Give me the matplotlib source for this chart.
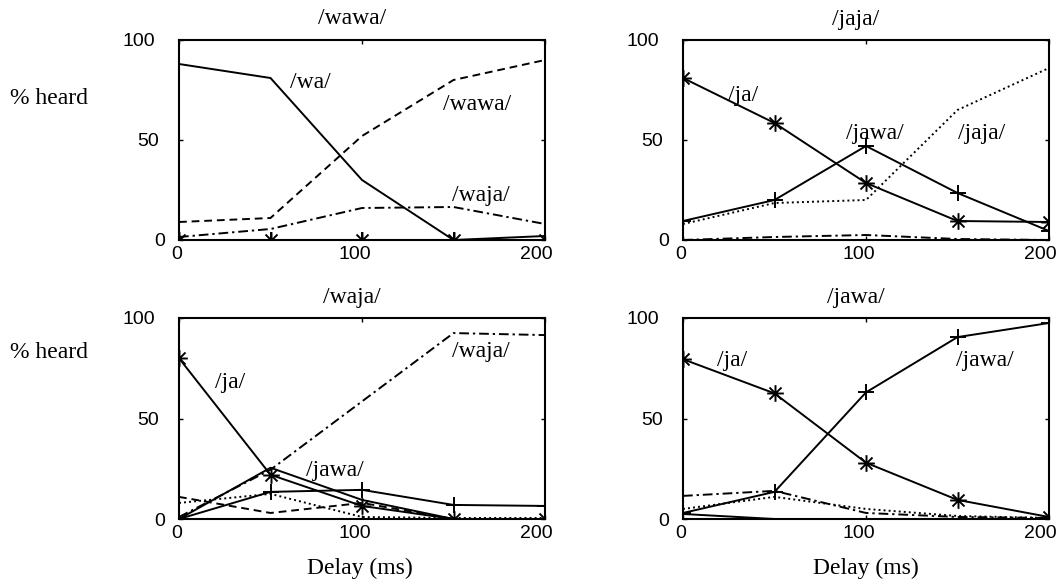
#!/usr/bin/env python3
"""Percent heard vs. delay for the four stimulus conditions (2x2 panels)."""

import matplotlib
matplotlib.use("Agg")
import matplotlib.pyplot as plt
import matplotlib.transforms as mtransforms
from matplotlib.path import Path

W, H, DPI = 1057, 586, 100

delay = [0, 50, 100, 150, 200]
x_ticks = [0, 100, 200]
y_ticks = [0, 50, 100]

# stimulus /wawa/
wawa_wa = [88, 81, 30, 0, 2]
wawa_ja = [0, 0, 0, 0, 0]
wawa_wawa = [9, 11, 52, 80, 90]
wawa_waja = [1.5, 5.5, 16, 16.5, 8]
wawa_jaja = [0, 0, 0, 0, 0]
wawa_jawa = [0, 0, 0, 0, 0]

# stimulus /jaja/
jaja_wa = [0, 0, 0, 0, 0]
jaja_ja = [81, 58.5, 28.5, 9.5, 9]
jaja_wawa = [0, 0, 0, 0, 0]
jaja_waja = [0, 1.5, 2.5, 0.5, 0]
jaja_jaja = [8, 18.5, 20, 65, 86]
jaja_jawa = [9.5, 20, 47, 23.5, 4.5]

# stimulus /waja/
waja_wa = [0, 25.5, 9.5, 0, 0]
waja_ja = [80, 22, 6.5, 0, 0]
waja_wawa = [11, 3, 8, 0, 0]
waja_waja = [1, 24.5, 58.5, 92.5, 91.5]
waja_jaja = [8, 12.5, 1, 0.5, 0.5]
waja_jawa = [0, 13.5, 14.5, 7, 6.5]

# stimulus /jawa/
jawa_wa = [2.5, 0, 0, 0, 0]
jawa_ja = [79.5, 62.5, 28, 9.5, 1]
jawa_wawa = [0, 0, 0, 0, 0]
jawa_waja = [11.5, 14, 3, 1, 0.5]
jawa_jaja = [5, 11, 5, 1.5, 0.5]
jawa_jawa = [3, 13.5, 63, 90.5, 97.5]

panels = [
    ("/wawa/", [wawa_wa, wawa_ja, wawa_wawa, wawa_waja, wawa_jaja, wawa_jawa],
     [("/wa/", 72, 79), ("/wawa/", 163, 68), ("/waja/", 165, 22.5)]),
    ("/jaja/", [jaja_wa, jaja_ja, jaja_wawa, jaja_waja, jaja_jaja, jaja_jawa],
     [("/ja/", 33, 72), ("/jawa/", 105, 53.5), ("/jaja/", 163, 53.5)]),
    ("/waja/", [waja_wa, waja_ja, waja_wawa, waja_waja, waja_jaja, waja_jawa],
     [("/ja/", 28, 68), ("/waja/", 165, 83.5), ("/jawa/", 85, 24)]),
    ("/jawa/", [jawa_wa, jawa_ja, jawa_wawa, jawa_waja, jawa_jaja, jawa_jawa],
     [("/ja/", 27, 79), ("/jawa/", 165, 79)]),
]

# gnuplot-style asterisk (+ overlaid with x)
d = 0.72
ASTERISK = Path(
    [(-1, 0), (1, 0), (0, -1), (0, 1), (-d, -d), (d, d), (-d, d), (d, -d)],
    [Path.MOVETO, Path.LINETO] * 4,
)

# response styles: wa, ja, wawa, waja, jaja, jawa
STYLES = [
    dict(ls="-", marker=None),
    dict(ls="-", marker=ASTERISK, ms=12),
    dict(ls=(0, (4, 2.5)), marker=None),
    dict(ls=(0, (5, 2, 1.2, 2)), marker=None),
    dict(ls=(0, (1, 1.6)), marker=None),
    dict(ls="-", marker="+", ms=11),
]

SERIF = "Liberation Serif"
SANS = "Liberation Sans"

fig = plt.figure(figsize=(W / DPI, H / DPI), dpi=DPI)

ax_px = [(179, 40, 545, 240), (683, 40, 1049, 240),
         (179, 318, 545, 519), (683, 318, 1049, 519)]

for (title, series, labels), (l, t, r, b) in zip(panels, ax_px):
    ax = fig.add_axes([l / W, (H - b) / H, (r - l) / W, (b - t) / H])
    for vals, st in zip(series, STYLES):
        ax.plot(delay, vals, color="black", lw=1.4, linestyle=st["ls"],
                marker=st["marker"], markersize=st.get("ms", 0),
                markeredgewidth=1.4, markerfacecolor="none")
    ax.set_xlim(0, 200)
    ax.set_ylim(0, 100)
    ax.set_xticks(x_ticks)
    ax.set_yticks(y_ticks)
    ax.tick_params(direction="in", top=True, right=True, length=3, width=1,
                   labelsize=14, pad=4)
    ax.tick_params(axis="y", pad=10)
    for lab in ax.get_xticklabels() + ax.get_yticklabels():
        lab.set_fontfamily(SANS)
    for lab, dx in zip(ax.get_xticklabels(), [-2, -7, -9]):
        lab.set_transform(lab.get_transform() + mtransforms.ScaledTranslation(dx / DPI, 0, fig.dpi_scale_trans))
    for lab, dx in zip(ax.get_yticklabels(), [0, -6, -10]):
        lab.set_transform(lab.get_transform() + mtransforms.ScaledTranslation(dx / DPI, 0, fig.dpi_scale_trans))
    for sp in ax.spines.values():
        sp.set_linewidth(1.5)
    ax.text(0.473, 1 + 21 / (b - t), title, transform=ax.transAxes, ha="center",
            va="center", fontsize=17, family=SERIF)
    for txt, x, y in labels:
        ax.text(x, y, txt, ha="center", va="center", fontsize=17, family=SERIF)

fig.text(10 / W, 1 - 98 / H, "% heard", ha="left", va="center", fontsize=17, family=SERIF)
fig.text(10 / W, 1 - 352 / H, "% heard", ha="left", va="center", fontsize=17, family=SERIF)
fig.text(360 / W, 1 - 568 / H, "Delay (ms)", ha="center", va="center", fontsize=17, family=SERIF)
fig.text(866 / W, 1 - 568 / H, "Delay (ms)", ha="center", va="center", fontsize=17, family=SERIF)

fig.savefig("out.png", dpi=DPI)
